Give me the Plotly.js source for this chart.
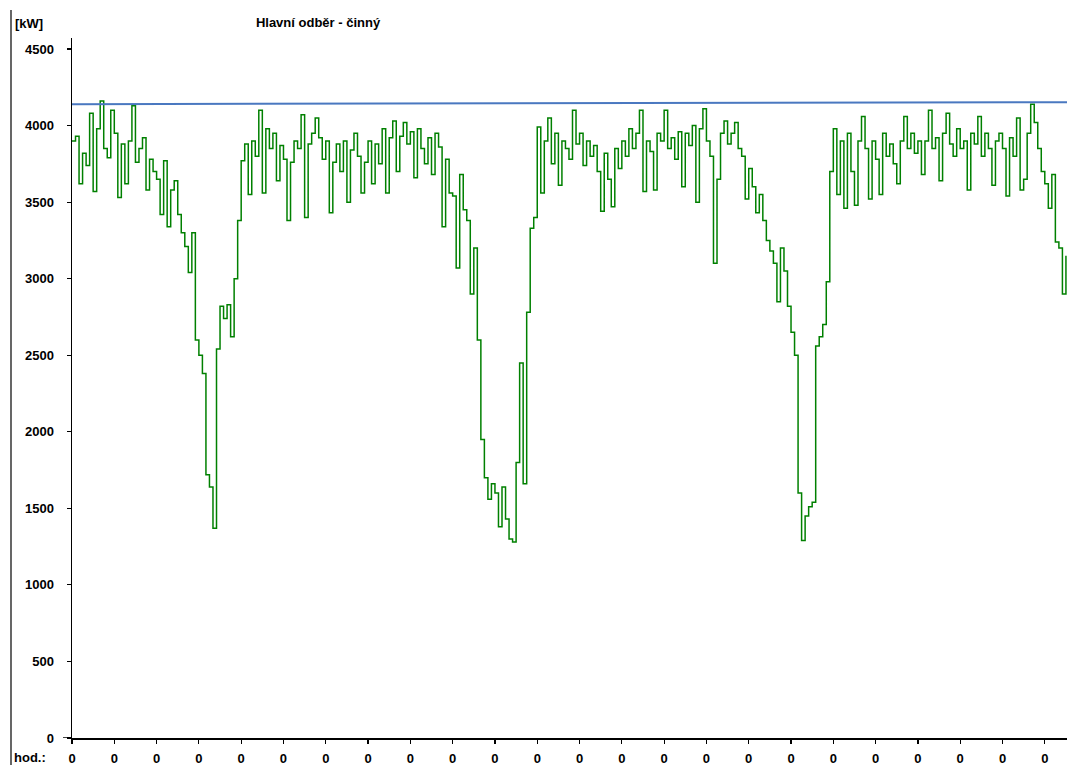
<!DOCTYPE html>
<html>
<head>
<meta charset="utf-8">
<script src="https://cdn.plot.ly/plotly-3.0.1.min.js"></script>
<style>
  html, body { margin: 0; padding: 0; background: #ffffff; }
  #chart { width: 1067px; height: 765px; }
</style>
</head>
<body>
<div id="chart"></div>
<script>
// Active power of the main supply point [kW], one reading per sample
const loadKW = [
  3900, 3930, 3620, 3820, 3740, 4080, 3570, 3980, 4160, 3850,
  3790, 4100, 3950, 3530, 3880, 3620, 3900, 4130, 3760, 3850,
  3920, 3580, 3780, 3700, 3650, 3420, 3770, 3340, 3580, 3640,
  3420, 3300, 3210, 3040, 3300, 2600, 2500, 2380, 1720, 1640,
  1370, 2540, 2820, 2740, 2830, 2620, 3000, 3380, 3770, 3880,
  3550, 3900, 3800, 4100, 3560, 3980, 3850, 3950, 3640, 3870,
  3780, 3380, 3760, 3900, 3850, 4070, 3400, 3880, 3950, 4050,
  3920, 3780, 3900, 3430, 3760, 3880, 3700, 3900, 3500, 3840,
  3950, 3800, 3560, 3760, 3900, 3620, 3880, 3750, 3980, 3560,
  3920, 4030, 3700, 3930, 4020, 3880, 3960, 3660, 3980, 3850,
  3750, 3920, 3680, 3950, 3860, 3340, 3780, 3560, 3540, 3070,
  3680, 3450, 3380, 2900, 3200, 2600, 1950, 1700, 1560, 1660,
  1600, 1380, 1640, 1430, 1300, 1280, 1800, 2450, 1660, 2780,
  3330, 3400, 3990, 3560, 3900, 4050, 3750, 3950, 3610, 3900,
  3850, 3780, 4100, 3880, 3950, 3740, 3900, 3800, 3870, 3700,
  3440, 3820, 3650, 3470, 3850, 3720, 3900, 3800, 3980, 3850,
  3950, 4100, 3570, 3900, 3830, 3580, 3950, 3900, 4100, 3850,
  3920, 3780, 3960, 3600, 3950, 3870, 4000, 3500, 3980, 4110,
  3900, 3800, 3100, 3650, 3950, 4030, 3880, 3950, 4020, 3850,
  3800, 3520, 3720, 3600, 3430, 3550, 3380, 3250, 3180, 3100,
  2850, 3200, 3050, 2820, 2650, 2500, 1600, 1290, 1450, 1510,
  1540, 2560, 2620, 2700, 2980, 3700, 3980, 3550, 3900, 3460,
  3950, 3700, 3480, 3900, 4060, 3850, 3520, 3900, 3780, 3550,
  3950, 3800, 3880, 3750, 3620, 3900, 4060, 3850, 3950, 3820,
  3900, 3680, 3900, 4100, 3850, 3920, 3640, 3950, 4080, 3880,
  3800, 3980, 3850, 3900, 3580, 3950, 3880, 4060, 3800, 3950,
  3850, 3610, 3900, 3950, 3850, 3540, 3920, 3800, 4050, 3580,
  3650, 3950, 4140, 4020, 3850, 3700, 3620, 3460, 3680, 3240,
  3200, 2900, 3150
];

// Reference (maximum) level line, start and end value [kW]
const limitKW = [4140, 4153];

// Samples between two time ticks on the axis
const samplesPerTick = 12;

// Hour labels under the time axis
const tickLabels = [
  "0", "0", "0", "0", "0", "0", "0", "0", "0", "0", "0", "0",
  "0", "0", "0", "0", "0", "0", "0", "0", "0", "0", "0", "0"
];

// Value axis labels
const yTicks = [0, 500, 1000, 1500, 2000, 2500, 3000, 3500, 4000, 4500];

const sampleIdx = loadKW.map((_, i) => i);
const lastIdx = loadKW.length - 1;
const xTickVals = tickLabels.map((_, i) => i * samplesPerTick);

const fontFamily = '"Liberation Sans", Arial, sans-serif';

const traces = [
  {
    x: sampleIdx,
    y: loadKW,
    type: 'scatter',
    mode: 'lines',
    line: { color: '#008000', width: 1.5, shape: 'hv' },
    hoverinfo: 'y',
    showlegend: false
  },
  {
    x: [0, lastIdx + 0.3],
    y: limitKW,
    type: 'scatter',
    mode: 'lines',
    line: { color: '#4a78c0', width: 2 },
    hoverinfo: 'y',
    showlegend: false
  }
];

const layout = {
  width: 1067,
  height: 765,
  margin: { l: 72, r: 0, t: 38, b: 27, pad: 0 },
  paper_bgcolor: '#ffffff',
  plot_bgcolor: '#ffffff',
  showlegend: false,
  font: { family: fontFamily, size: 13, color: '#000000' },
  title: {
    text: 'Hlavní odběr - činný',
    font: { family: fontFamily, size: 13, color: '#000000', weight: 'bold' },
    xref: 'container', yref: 'container',
    x: 318 / 1067, xanchor: 'center',
    y: 1 - 22 / 765, yanchor: 'middle'
  },
  xaxis: {
    range: [0, lastIdx + 0.3],
    tickmode: 'array',
    tickvals: xTickVals,
    ticktext: tickLabels,
    ticks: 'outside',
    ticklen: 4,
    tickwidth: 1.2,
    tickcolor: '#000000',
    showline: true,
    linecolor: '#000000',
    linewidth: 1.5,
    showgrid: false,
    zeroline: false,
    ticklabelstandoff: 4,
    tickfont: { family: fontFamily, size: 13, color: '#000000', weight: 'bold' },
    fixedrange: true
  },
  yaxis: {
    range: [0, 4572],
    tickmode: 'array',
    tickvals: yTicks,
    ticktext: yTicks.map(String),
    ticks: 'outside',
    ticklen: 4,
    tickwidth: 1.2,
    tickcolor: '#000000',
    showline: true,
    linecolor: '#000000',
    linewidth: 1.5,
    showgrid: false,
    zeroline: false,
    ticklabelstandoff: 10,
    tickfont: { family: fontFamily, size: 13, color: '#000000', weight: 'bold' },
    fixedrange: true
  },
  shapes: [
    // short run of the time axis to the left of the value axis
    {
      type: 'line', xref: 'paper', yref: 'y',
      x0: -9 / 995, x1: 0, y0: 0, y1: 0,
      line: { color: '#000000', width: 1.5 }
    },
    // frame line along the left edge
    {
      type: 'line', xref: 'paper', yref: 'paper',
      x0: -61 / 995, x1: -61 / 995, y0: -27 / 700, y1: 728 / 700,
      line: { color: '#000000', width: 1.2 }
    }
  ],
  annotations: [
    {
      text: '[kW]', showarrow: false,
      xref: 'paper', yref: 'paper',
      x: -59 / 995, xanchor: 'left',
      y: 715 / 700, yanchor: 'middle',
      font: { family: fontFamily, size: 13, color: '#000000', weight: 'bold' }
    },
    {
      text: 'hod.:', showarrow: false,
      xref: 'paper', yref: 'paper',
      x: -60 / 995, xanchor: 'left',
      y: -19 / 700, yanchor: 'middle',
      font: { family: fontFamily, size: 13, color: '#000000', weight: 'bold' }
    }
  ]
};

Plotly.newPlot('chart', traces, layout, { displayModeBar: false, staticPlot: true });
</script>
</body>
</html>
